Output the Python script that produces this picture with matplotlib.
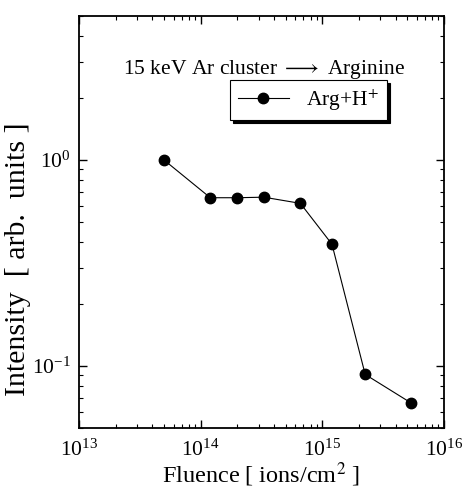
import numpy as np
import matplotlib
matplotlib.use("Agg")
import matplotlib.pyplot as plt
from matplotlib.ticker import LogLocator, LogFormatterMathtext, NullFormatter

plt.rcParams['font.family'] = ['Liberation Serif', 'DejaVu Serif']
plt.rcParams['mathtext.fontset'] = 'stix'

# fluence (ions/cm^2) and Arg+H+ intensity
fluence = [5.0e13, 1.2e14, 2.0e14, 3.3e14, 6.6e14, 1.2e15, 2.25e15, 5.4e15]
intensity = [1.0, 0.656, 0.656, 0.66, 0.616, 0.39, 0.091, 0.066]

fig = plt.figure(figsize=(4.63, 4.93), dpi=100)
ax = fig.add_axes([0.1706, 0.1318, 0.7884, 0.8357])

ax.plot(fluence, intensity, color='black', lw=0.8, marker='o', ms=7.5,
        label='Arg+H$^{+}$')

ax.set_xscale('log')
ax.set_yscale('log')
ax.set_xlim(1e13, 1e16)
ax.set_ylim(0.05, 5)

ax.xaxis.set_major_locator(LogLocator(base=10, numticks=10))
ax.yaxis.set_major_locator(LogLocator(base=10, numticks=10))
ax.xaxis.set_minor_locator(LogLocator(base=10, subs=np.arange(2, 10), numticks=20))
ax.yaxis.set_minor_locator(LogLocator(base=10, subs=np.arange(2, 10), numticks=20))
ax.xaxis.set_major_formatter(LogFormatterMathtext())
ax.yaxis.set_major_formatter(LogFormatterMathtext())
ax.xaxis.set_minor_formatter(NullFormatter())
ax.yaxis.set_minor_formatter(NullFormatter())

ax.tick_params(which='both', direction='in', top=True, right=True, labelsize=15.5)
ax.tick_params(which='major', length=6, width=1)
ax.tick_params(which='minor', length=3, width=0.8)
ax.tick_params(axis='x', pad=8)
ax.tick_params(axis='y', pad=6)
for s in ax.spines.values():
    s.set_linewidth(1.3)

ax.set_xlabel('Fluence [ ions/cm$^{2}$ ]', fontsize=17.5, labelpad=0)
ax.set_ylabel('Intensity  [ arb.  units ]', fontsize=21.5)
ax.yaxis.set_label_coords(-0.132, 0.41)

ax.text(0.12, 0.871, '15 keV Ar cluster $\\longrightarrow$ Arginine', transform=ax.transAxes,
        fontsize=15.5, va='center', ha='left')

leg = ax.legend(loc='upper right', bbox_to_anchor=(0.844, 0.845), borderaxespad=0,
                fancybox=False, shadow={'color': 'black', 'alpha': 1}, edgecolor='black',
                fontsize=15.5, handlelength=2.4, borderpad=0.35, framealpha=1)
leg.get_frame().set_linewidth(0.8)

fig.savefig('out.png', dpi=100)
